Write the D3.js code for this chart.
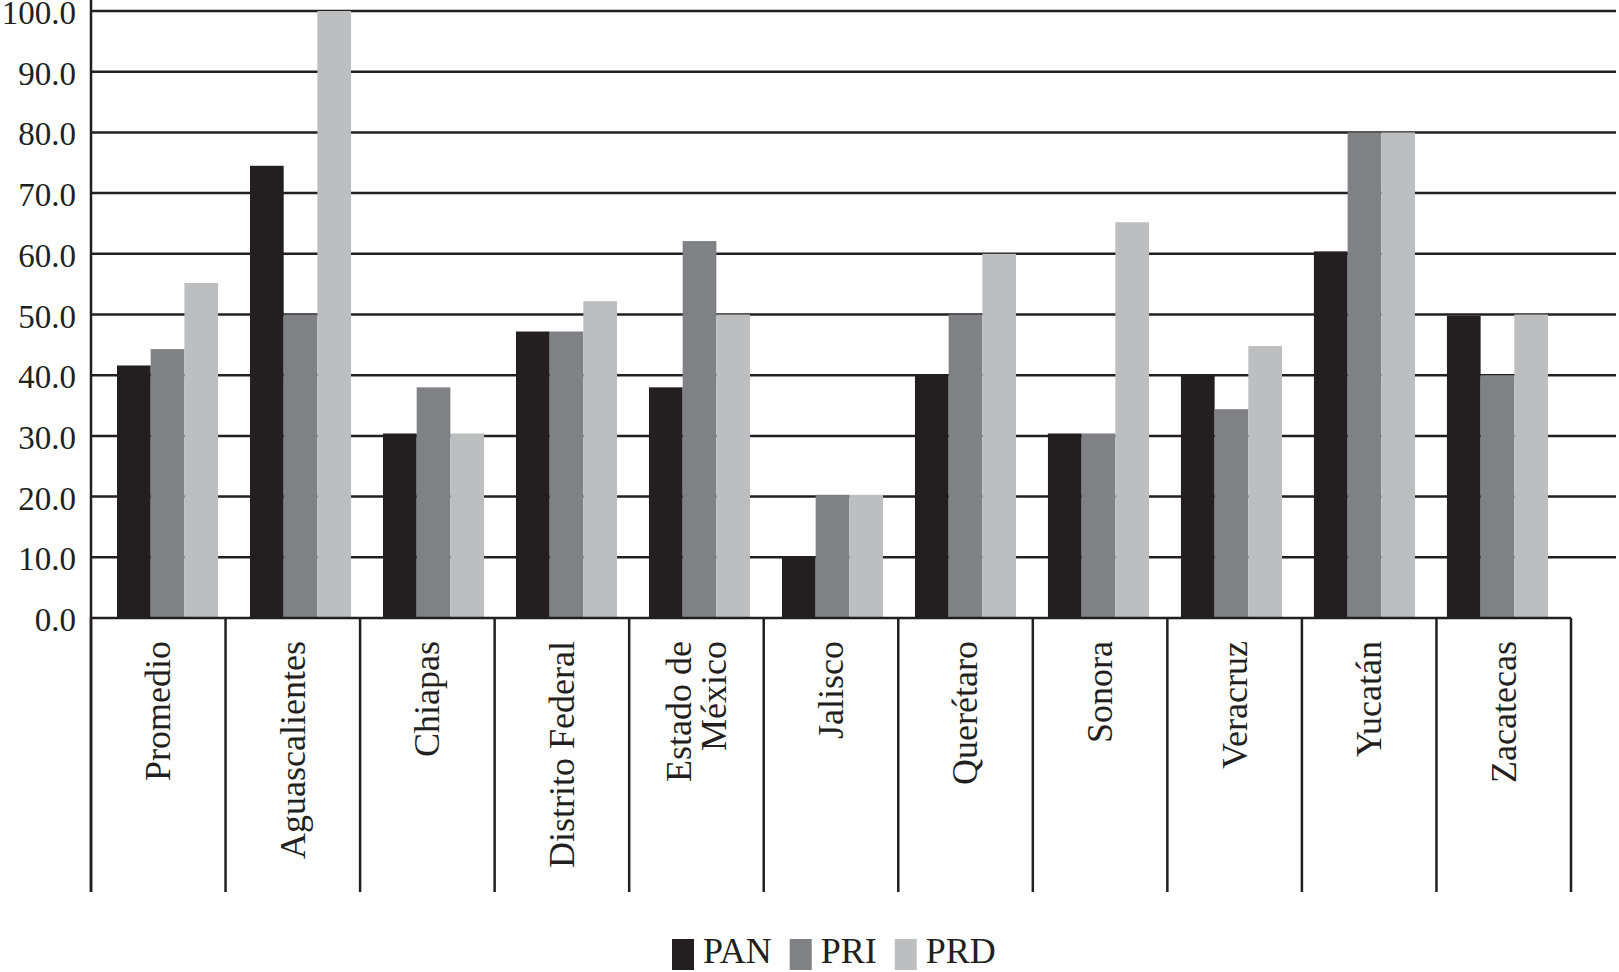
<!DOCTYPE html>
<html>
<head>
<meta charset="utf-8">
<script src="https://cdn.jsdelivr.net/npm/d3@7"></script>
<style>
  html, body { margin: 0; padding: 0; background: #ffffff; }
  svg { display: block; }
</style>
</head>
<body>
<svg id="chart" width="1619" height="972"></svg>
<script>
// ---- data ----
const categories = ["Promedio", "Aguascalientes", "Chiapas", "Distrito Federal", "Estado de México", "Jalisco", "Querétaro", "Sonora", "Veracruz", "Yucatán", "Zacatecas"];
const categoryLines = [["Promedio"], ["Aguascalientes"], ["Chiapas"], ["Distrito Federal"], ["Estado de", "México"], ["Jalisco"], ["Querétaro"], ["Sonora"], ["Veracruz"], ["Yucatán"], ["Zacatecas"]];
const seriesNames = ["PAN", "PRI", "PRD"];
const panValues = [41.6, 74.5, 30.4, 47.2, 38.0, 10.0, 40.0, 30.4, 40.0, 60.4, 49.8];
const priValues = [44.3, 50.0, 38.0, 47.2, 62.1, 20.3, 50.0, 30.4, 34.4, 80.0, 40.0];
const prdValues = [55.2, 100.0, 30.4, 52.2, 50.0, 20.3, 60.0, 65.2, 44.8, 80.0, 50.0];
const yTicks = [0, 10, 20, 30, 40, 50, 60, 70, 80, 90, 100];
const seriesColors = ["#231f20", "#808184", "#bcbec0"];

const seriesValues = [panValues, priValues, prdValues];
const rows = categories.map((c, i) => ({
  cat: c,
  lines: categoryLines[i],
  vals: seriesNames.map((s, j) => ({ key: s, value: seriesValues[j][i] }))
}));

const svg = d3.select("#chart");
const ink = "#231f20";
const font = "'Liberation Serif', 'DejaVu Serif', serif";

// ---- scales ----
const y = d3.scaleLinear().domain([0, 100]).range([618, 11]);
const xCat = d3.scaleBand().domain(categories).range([91, 1571]).padding(0);
const xGroup = d3.scaleBand().domain(categories).range([117, 1548]).paddingInner(0.24).paddingOuter(0);
const xSeries = d3.scaleBand().domain(seriesNames).range([0, xGroup.bandwidth()]).padding(0);
const color = d3.scaleOrdinal().domain(seriesNames).range(seriesColors);

// ---- gridlines ----
const gridRight = 1616;
svg.append("g").selectAll("line")
  .data(yTicks.filter(t => t > 0))
  .join("line")
  .attr("x1", xCat.range()[0]).attr("x2", gridRight)
  .attr("y1", d => y(d)).attr("y2", d => y(d))
  .attr("stroke", ink).attr("stroke-width", 2.5);

// ---- bars ----
svg.append("g").selectAll("g")
  .data(rows)
  .join("g")
  .attr("transform", d => `translate(${xGroup(d.cat)},0)`)
  .selectAll("rect")
  .data(d => d.vals)
  .join("rect")
  .attr("x", d => xSeries(d.key))
  .attr("width", xSeries.bandwidth())
  .attr("y", d => y(d.value))
  .attr("height", d => y(0) - y(d.value))
  .attr("fill", d => color(d.key));

// ---- y axis ----
const yAxis = d3.axisLeft(y).tickValues(yTicks).tickFormat(d3.format(".1f")).tickSize(0).tickPadding(15);
const gy = svg.append("g").attr("transform", `translate(${xCat.range()[0]},0)`).call(yAxis);
gy.select(".domain").remove();
gy.selectAll("text")
  .attr("font-family", font).attr("font-size", 33).attr("fill", ink)
  .attr("dy", "0.38em");

svg.append("line")
  .attr("x1", xCat.range()[0]).attr("x2", xCat.range()[0])
  .attr("y1", 0).attr("y2", 892)
  .attr("stroke", ink).attr("stroke-width", 2.5);

// ---- x axis baseline and separators ----
svg.append("line")
  .attr("x1", xCat.range()[0]).attr("x2", xCat.range()[1])
  .attr("y1", y(0)).attr("y2", y(0))
  .attr("stroke", ink).attr("stroke-width", 2.5);

const sepX = categories.map(c => xCat(c)).concat([xCat.range()[1]]);
svg.append("g").selectAll("line")
  .data(sepX)
  .join("line")
  .attr("x1", d => d).attr("x2", d => d)
  .attr("y1", y(0)).attr("y2", 892)
  .attr("stroke", ink).attr("stroke-width", 2.5);

// ---- category labels (rotated) ----
const labelSize = 36;
const lg = svg.append("g").selectAll("g")
  .data(rows)
  .join("g")
  .attr("transform", d => `translate(${xCat(d.cat) + xCat.bandwidth() / 2},641) rotate(-90)`);
lg.each(function (d) {
  const n = d.lines.length;
  d3.select(this).selectAll("text")
    .data(d.lines)
    .join("text")
    .attr("x", 0)
    .attr("y", (t, i) => (i - (n - 1) / 2) * labelSize * 0.98)
    .attr("dy", "0.33em")
    .attr("text-anchor", "end")
    .attr("font-family", font)
    .attr("font-size", labelSize)
    .attr("fill", ink)
    .text(t => t);
});

// ---- legend ----
const legend = svg.append("g");
let lx = 672;
seriesNames.forEach(s => {
  legend.append("rect")
    .attr("x", lx).attr("y", 939).attr("width", 22).attr("height", 31)
    .attr("fill", color(s));
  const t = legend.append("text")
    .attr("x", lx + 31).attr("y", 963)
    .attr("font-family", font).attr("font-size", 36).attr("fill", ink)
    .text(s);
  lx += 31 + t.node().getComputedTextLength() + 18;
});
</script>
</body>
</html>
